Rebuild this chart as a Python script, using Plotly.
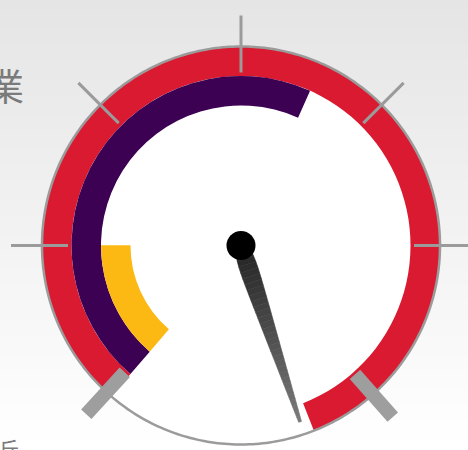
import math
import numpy as np
import plotly.graph_objects as go

# ---------------- data ----------------
series_names = ["Red", "Purple", "Yellow"]
series_values = [110.3, 60.5, 18.3]          # gauge value (0-100 spans 270 deg)
series_colors = ["#DA1A30", "#3D0154", "#FDB913"]
band_base = [169.5, 140.0, 110.5]            # inner radius of each ring (px units)
band_thickness = [29.5, 29.5, 29.5]
needle_value = 111.4
tick_angles = [180, 135, 90, 45, 0]          # screen angles of the thin ticks
cap_angles = [227.5, -48.5]                  # screen angles of the thick end caps
title_text = "業"
sub_text = "丘"

# ---------------- scale ----------------
START = 229.3      # screen angle of value 0
SWEEP = 270.0
GMAX = 100.0
R_DIAL = 199.0     # radius of the dial face
R_AXIS = 204.0     # radial axis range (1 unit = 1 px)


def v2theta(v):
    return v / GMAX * SWEEP


def a2theta(a):
    return START - a


fig = go.Figure()

# white dial face
fig.add_trace(go.Barpolar(r=[R_DIAL], base=[0], theta=[180], width=[360],
                          marker=dict(color="white", line=dict(width=0)),
                          hoverinfo="skip"))

# rings
for name, v, col, b, t in zip(series_names, series_values, series_colors,
                               band_base, band_thickness):
    w = v2theta(v)
    fig.add_trace(go.Barpolar(r=[t], base=[b], theta=[w / 2], width=[w],
                              marker=dict(color=col, line=dict(width=0)),
                              name=name, hoverinfo="skip"))

# dial outline
circ_t = np.linspace(0, 360, 361)
fig.add_trace(go.Scatterpolar(r=[R_DIAL] * len(circ_t), theta=circ_t,
                              mode="lines", line=dict(color="#9b9b9b", width=2.5),
                              cliponaxis=False, hoverinfo="skip"))

# thin ticks (radial line markers)
TICK_R0, TICK_R1 = 173.0, 230.0
fig.add_trace(go.Scatterpolar(
    r=[(TICK_R0 + TICK_R1) / 2] * len(tick_angles),
    theta=[a2theta(a) for a in tick_angles],
    mode="markers", cliponaxis=False, hoverinfo="skip",
    marker=dict(symbol="line-ns", size=(TICK_R1 - TICK_R0) / 1.4,
                color="#9b9b9b",
                angle=[90 - a for a in tick_angles],
                line=dict(color="#9b9b9b", width=3))))

# thick end caps
CAP_R0, CAP_R1 = 172.0, 229.0
fig.add_trace(go.Scatterpolar(
    r=[(CAP_R0 + CAP_R1) / 2] * len(cap_angles),
    theta=[a2theta(a) for a in cap_angles],
    mode="markers", cliponaxis=False, hoverinfo="skip",
    marker=dict(symbol="line-ns", size=(CAP_R1 - CAP_R0) / 1.4,
                color="#9e9e9e",
                angle=[90 - a for a in cap_angles],
                line=dict(color="#9e9e9e", width=14))))

# needle (tapered, gradient)
N = 30
r_start, r_tip = 10.0, 186.0
th = v2theta(needle_value)


def hw(r):
    return 11.0 - 9.5 * r / r_tip


rs = np.linspace(r_start, r_tip, N + 1)
for i in range(N):
    r0, r1 = rs[i], rs[i + 1]
    d0 = math.degrees(math.atan(hw(r0) / r0))
    d1 = math.degrees(math.atan(hw(r1) / r1))
    f = (i + 0.5) / N
    g = int(round(0x26 + (0x7a - 0x26) * f))
    col = f"rgb({g},{g},{g})"
    fig.add_trace(go.Scatterpolar(
        r=[r0, r1, r1, r0, r0],
        theta=[th - d0, th - d1, th + d1, th + d0, th - d0],
        mode="lines", fill="toself", fillcolor=col,
        line=dict(color=col, width=0.6), cliponaxis=False, hoverinfo="skip"))

# pivot
fig.add_trace(go.Scatterpolar(r=[0], theta=[0], mode="markers",
                              marker=dict(size=29, color="black"),
                              cliponaxis=False, hoverinfo="skip"))

W, H = 468, 450
cx, cy = 241.0, 245.5
fig.update_layout(
    width=W, height=H,
    margin=dict(l=0, r=0, t=0, b=0),
    paper_bgcolor="white",
    showlegend=False,
    polar=dict(
        domain=dict(x=[(cx - R_AXIS) / W, (cx + R_AXIS) / W],
                    y=[(H - cy - R_AXIS) / H, (H - cy + R_AXIS) / H]),
        bgcolor="rgba(0,0,0,0)",
        radialaxis=dict(visible=False, range=[0, R_AXIS]),
        angularaxis=dict(rotation=START, direction="clockwise",
                         thetaunit="degrees", showticklabels=False,
                         ticks="", showgrid=False, showline=False),
    ),
)

# background gradient
shapes = []
steps = 90
for i in range(steps):
    f = i / (steps - 1)
    g = int(round(229 + (255 - 229) * f))
    shapes.append(dict(type="rect", xref="paper", yref="paper",
                       x0=0, x1=1, y0=1 - (i + 1) / steps, y1=1 - i / steps,
                       fillcolor=f"rgb({g},{g},{g})", line=dict(width=0),
                       layer="below"))
fig.update_layout(shapes=shapes)

fig.add_annotation(text=title_text, xref="paper", yref="paper",
                   x=26 / W, y=(H - 85) / H, xanchor="right", yanchor="middle",
                   showarrow=False,
                   font=dict(family="Noto Sans CJK JP", size=37, color="#7a7a7a"))
fig.add_annotation(text=sub_text, xref="paper", yref="paper",
                   x=-4 / W, y=(H - 430) / H, xanchor="left", yanchor="top",
                   showarrow=False,
                   font=dict(family="Noto Sans CJK JP", size=22, color="#7a7a7a"))

fig.write_html("out.html",
               config={"displayModeBar": False},
               post_script="document.body.style.margin='0px';"
                           "document.body.style.overflow='hidden';")
